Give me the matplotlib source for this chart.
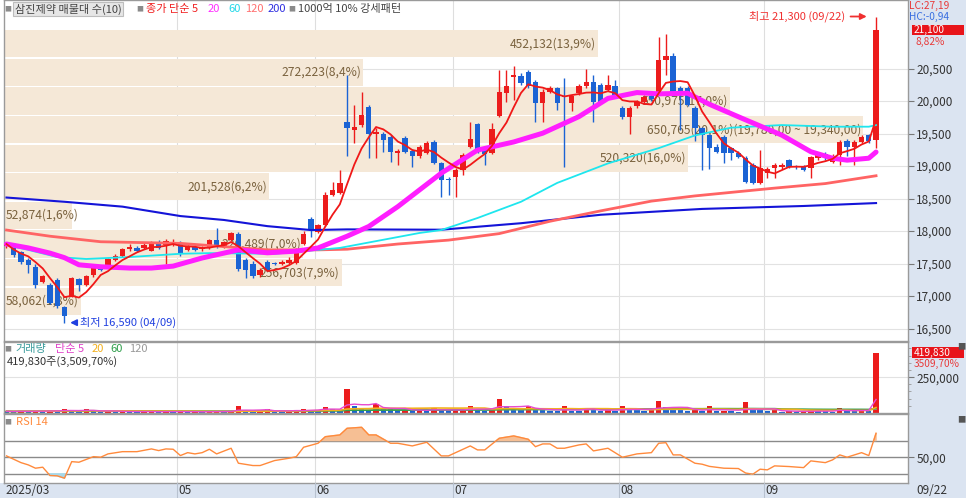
import numpy as np
import pandas as pd
import matplotlib
matplotlib.use("Agg")
import matplotlib.pyplot as plt
from matplotlib.patches import Rectangle
from matplotlib.lines import Line2D
from matplotlib.transforms import blended_transform_factory as blend

plt.rcParams['font.family'] = ['Noto Sans CJK KR', 'DejaVu Sans']
plt.rcParams['axes.unicode_minus'] = False

# 일봉 데이터 (2025/03/28 ~ 2025/09/22), 그림에서 읽은 값
opens = [17770, 17790, 17680, 17560, 17450, 17220, 17170, 17245, 16830, 16990,
         17260, 17170, 17320, 17450, 17450, 17560, 17610, 17720, 17740, 17740,
         17700, 17820, 17790, 17790, 17820, 17710, 17760, 17720, 17750, 17860,
         17760, 17860, 17950, 17560, 17500, 17320, 17530, 17510, 17500, 17505,
         17505, 17800, 18190, 17990, 18090, 18560, 18590, 19680, 19555, 19630,
         19910, 19490, 19500, 19450, 19195, 19435, 19235, 19155, 19205, 19375,
         19040, 18800, 18835, 18940, 19290, 19640, 19245, 19205, 19770, 20130,
         20375, 20385, 20450, 20300, 19975, 20145, 20195, 20080, 19975, 20130,
         20230, 20300, 20245, 20170, 20230, 19890, 19760, 19920, 19990, 20080,
         20145, 20630, 20695, 20195, 20195, 19890, 19580, 19475, 19300, 19450,
         19270, 19195, 19120, 19015, 18740, 18890, 18965, 18980, 19090, 18990,
         19000, 18965, 19120, 19185, 19065, 19170, 19390, 19300, 19375, 19475,
         19400]
highs = [17830, 17820, 17700, 17580, 17500, 17330, 17200, 17270, 16850, 17290,
         17280, 17330, 17480, 17470, 17590, 17640, 17740, 17800, 17770, 17810,
         17850, 17860, 17870, 17880, 17840, 17780, 17790, 17770, 17880, 18040,
         17850, 17990, 17980, 17580, 17540, 17430, 17550, 17530, 17560, 17600,
         17740, 18000, 18220, 18110, 18600, 18760, 18940, 20400, 19940, 20140,
         19940, 19580, 19520, 19480, 19260, 19460, 19260, 19330, 19380, 19400,
         19060, 18830, 18970, 19200, 19680, 19660, 19270, 19655, 20475, 20470,
         20540, 20430, 20470, 20330, 20180, 20230, 20220, 20350, 20100, 20260,
         20500, 20400, 20270, 20400, 20330, 19920, 19920, 20010, 20100, 20110,
         20990, 21030, 20740, 20230, 20230, 19920, 19600, 19500, 19340, 19470,
         19300, 19230, 19160, 19050, 19245, 18990, 19050, 19040, 19110, 19010,
         19020, 19160, 19220, 19210, 19180, 19400, 19420, 19400, 19470, 19490,
         21300]
lows = [17740, 17600, 17500, 17350, 17130, 17200, 16870, 16820, 16590, 16980,
        17070, 17150, 17300, 17380, 17440, 17540, 17600, 17700, 17680, 17730,
        17690, 17720, 17500, 17770, 17620, 17690, 17690, 17700, 17730, 17740,
        17740, 17840, 17390, 17280, 17280, 17300, 17380, 17470, 17480, 17490,
        17490, 17780, 17910, 17970, 18080, 18540, 18570, 19150, 19350, 19600,
        19120, 19120, 19220, 19065, 19020, 19200, 18990, 19130, 19180, 19030,
        18530, 18560, 18530, 18860, 19270, 19200, 19020, 19180, 19750, 19990,
        20010, 20250, 20200, 19680, 19680, 20120, 19860, 18990, 19850, 20100,
        20200, 19680, 19970, 20150, 20060, 19730, 19500, 19900, 19950, 20000,
        20100, 20400, 20070, 19555, 19920, 19390, 18940, 18950, 19200, 19050,
        19100, 19120, 18740, 18720, 18720, 18810, 18810, 18950, 18970, 18960,
        18920, 18810, 19100, 19100, 19050, 19010, 19150, 19020, 19360, 19360,
        19280]
closes = [17800, 17630, 17530, 17480, 17170, 17310, 16890, 16840, 16700, 17280,
          17170, 17310, 17460, 17400, 17570, 17615, 17720, 17750, 17700, 17790,
          17800, 17740, 17840, 17830, 17650, 17760, 17710, 17740, 17860, 17760,
          17830, 17965, 17410, 17400, 17310, 17400, 17400, 17490, 17530, 17555,
          17720, 17955, 18030, 18090, 18555, 18630, 18745, 19580, 19605, 19785,
          19500, 19530, 19400, 19220, 19235, 19220, 19155, 19290, 19360, 19050,
          18790, 18780, 18940, 19170, 19410, 19220, 19185, 19565, 20145, 20230,
          20400, 20280, 20230, 19975, 20145, 20195, 19975, 20060, 20080, 20230,
          20300, 19990, 19990, 20245, 20080, 19760, 19890, 19990, 20060, 20030,
          20630, 20685, 20095, 20095, 19940, 19580, 19480, 19270, 19220, 19195,
          19195, 19145, 18760, 18740, 18965, 18950, 19015, 19015, 18990, 18980,
          18940, 19135, 19195, 19120, 19155, 19375, 19300, 19375, 19450, 19390,
          21100]
# 거래량 (천주)
vol_k = [12, 10, 14, 11, 15, 13, 18, 16, 26, 14,
         11, 26, 15, 9, 12, 10, 13, 9, 8, 10,
         11, 8, 12, 9, 10, 8, 9, 7, 11, 14,
         10, 12, 50, 14, 12, 16, 25, 12, 10, 13,
         24, 25, 22, 20, 44, 25, 22, 168, 50, 25,
         22, 65, 30, 26, 18, 22, 15, 22, 18, 35,
         20, 15, 18, 22, 50, 28, 16, 30, 95, 48,
         30, 22, 48, 20, 18, 14, 12, 48, 16, 14,
         38, 22, 14, 18, 12, 52, 30, 18, 15, 20,
         85, 45, 30, 20, 14, 22, 16, 48, 14, 16,
         12, 10, 74, 22, 18, 12, 18, 10, 12, 8,
         10, 20, 14, 12, 10, 36, 14, 12, 15, 11.962,
         419.83]

# 이동평균선
ma20_idx = [0, 3, 6, 8, 10, 13, 17, 20, 23, 27, 32, 36, 40, 43, 47, 50, 54, 60, 65, 70,
            74, 79, 83, 87, 90, 94, 97, 102, 107, 111, 114, 116, 119, 120]
ma20_val = [17800, 17740, 17660, 17590, 17480, 17450, 17430, 17430, 17460, 17585,
            17710, 17665, 17690, 17740, 17920, 18070, 18375, 18890, 19245, 19370,
            19505, 19760, 20040, 20130, 20110, 20120, 19950, 19710, 19475, 19220,
            19120, 19090, 19120, 19215]
ma60_idx = [0, 3, 7, 11, 17, 24, 28, 37, 46, 57, 60, 65, 71, 76, 83, 90, 95, 100, 107,
            114, 119, 120]
ma60_val = [17785, 17710, 17600, 17570, 17600, 17650, 17660, 17650, 17740, 17970,
            18015, 18200, 18450, 18740, 19040, 19275, 19470, 19590, 19630, 19605,
            19605, 19630]
ma120_idx = [0, 6, 13, 24, 36, 43, 47, 54, 61, 68, 75, 82, 89, 95, 106, 113, 120]
ma120_val = [18015, 17920, 17835, 17810, 17710, 17710, 17720, 17800, 17860, 17960,
             18150, 18310, 18460, 18540, 18660, 18730, 18850]
ma200_idx = [0, 8, 16, 24, 30, 36, 42, 47, 60, 71, 82, 96, 110, 120]
ma200_val = [18515, 18450, 18375, 18230, 18170, 18075, 18015, 18025, 18020, 18120,
             18250, 18340, 18385, 18430]

# RSI 14
rsi_idx = [0, 2, 3, 4, 5, 6, 7, 8, 9, 10, 12, 13, 14, 16, 18, 20, 21, 22, 23, 24,
           25, 26, 27, 28, 29, 31, 32, 34, 35, 37, 39, 40, 41, 43, 44, 46, 47, 49, 50, 51,
           53, 54, 56, 58, 60, 61, 64, 65, 66, 68, 70, 72, 73, 74, 75, 76, 77, 79, 80, 81,
           83, 85, 87, 89, 90, 91, 92, 93, 95, 96, 97, 99, 101, 102, 103, 104, 105, 106, 108, 110,
           111, 113, 114, 115, 116, 118, 119, 120]
rsi_val = [51.6, 43.5, 40.8, 36.8, 38, 28, 27.6, 24.8, 44.7, 44,
           50.7, 50, 54, 56.7, 56.7, 60, 58, 60, 59.6, 52,
           55.5, 54, 55.5, 59.6, 54, 60.8, 42.8, 40, 40, 46,
           48.8, 50.7, 62, 66.8, 74.7, 76.8, 84.8, 86, 76.8, 76.8,
           66.8, 66.8, 63.6, 68, 51.6, 51.6, 63.6, 58.8, 58.8, 72.8,
           75.6, 71.6, 62.7, 66, 66, 60.8, 60.8, 64.8, 66, 57.6,
           60.8, 50, 54, 55.5, 66.8, 67.5, 52.8, 52.8, 42.8, 41.6,
           39, 36.8, 36.4, 31, 29.6, 35.6, 34.8, 39.6, 38.8, 37.5,
           45.6, 43.5, 46.8, 52.8, 50, 55.5, 52, 78.8]

# 매물대 (10구간)
prof_bottom = [16700, 17140, 17580, 18020, 18460, 18900, 19340, 19780, 20220, 20660]
prof_step = 440
prof_vol = [58062, 256703, 226489, 52874, 201528, 520320, 650765, 550975, 272223, 452132]
prof_pct = [1.8, 7.9, 7.0, 1.6, 6.2, 16.0, 20.1, 17.0, 8.4, 13.9]

month_idx = [24, 43, 62, 85, 105]
month_lbl = ['05', '06', '07', '08', '09']

RED = '#ec1c1c'
BLUE = '#1b63d4'

W, H = 966, 498
fig = plt.figure(figsize=(W / 100, H / 100), dpi=100)
fig.patch.set_facecolor('white')


def add_ax(x0, y0, x1, y1):
    return fig.add_axes([x0 / W, 1 - y1 / H, (x1 - x0) / W, (y1 - y0) / H])


def ftext(x, y, s, **kw):
    kw.setdefault('va', 'center')
    kw.setdefault('fontsize', 8)
    return fig.text(x / W, 1 - y / H, s, **kw)


def kr(x, d=2):
    return f"{x:,.{d}f}".replace('.', ',')


strip = '#dbe4f1'
fig.patches.append(Rectangle((908 / W, 0), 58 / W, 1, transform=fig.transFigure,
                             facecolor=strip, edgecolor='none', zorder=-5))
fig.patches.append(Rectangle((0, 0), 1, 15 / H, transform=fig.transFigure,
                             facecolor=strip, edgecolor='none', zorder=-5))

ax_p = add_ax(4, 0, 908, 341)
ax_v = add_ax(4, 342, 908, 413)
ax_r = add_ax(4, 414, 908, 483)

xlim = (-0.345, 124.41)
for ax in (ax_p, ax_v, ax_r):
    ax.set_xlim(*xlim)
    ax.set_xticks([])
    for sp in ax.spines.values():
        sp.set_color('#9a9a9a')
        sp.set_linewidth(1)
    ax.yaxis.tick_right()
    ax.tick_params(axis='y', length=4, width=0.8, color='#777', labelsize=8.5,
                   labelcolor='#333', pad=2)
    for m in month_idx:
        ax.axvline(m - 0.45, color='#dedede', lw=0.8, zorder=0.2)

idx = np.arange(len(closes))
o, h, l, c = map(np.array, (opens, highs, lows, closes))

# ---- 가격 패널 ----
ax_p.set_ylim(16308, 21554)
pticks = list(range(16500, 21000, 500))
ax_p.set_yticks(pticks)
ax_p.set_yticklabels([f"{v:,}" for v in pticks])
for v in pticks:
    ax_p.axhline(v, color='#e2e2e2', lw=0.8, zorder=0.2)

# 매물대 막대
tr = blend(ax_p.transAxes, ax_p.transData)
max_pct = max(prof_pct)
for b, vol, pct in zip(prof_bottom, prof_vol, prof_pct):
    wf = pct / max_pct * 0.95
    ax_p.add_patch(Rectangle((0, b + 10), wf, prof_step - 22, transform=tr,
                             facecolor='#f5e8d7', edgecolor='none', zorder=0.5))
    lbl = f"{vol:,}({pct:.1f}%)".replace('.', ',')
    if b == prof_bottom[int(np.argmax(prof_pct))]:
        lbl += f"({kr(b + prof_step)} ~ {kr(b)})"
    if pct < 3:
        ax_p.text(0.002, b + prof_step / 2, lbl, transform=tr, ha='left', va='center',
                  fontsize=8.7, color='#7a623e', zorder=1)
    else:
        ax_p.text(wf - 0.002, b + prof_step / 2, lbl, transform=tr, ha='right', va='center',
                  fontsize=8.7, color='#7a623e', zorder=1)

# 캔들
col = np.where(c >= o, RED, BLUE)
ax_p.vlines(idx, l, h, colors=col, lw=1, zorder=3)
body_lo = np.minimum(o, c)
body_h = np.maximum(np.abs(c - o), 16)
ax_p.bar(idx, body_h, bottom=body_lo, width=0.74, color=col, linewidth=0, zorder=3.1)

# 이동평균
ax_p.plot(ma200_idx, ma200_val, color='#1414d8', lw=1.5, zorder=4)
ax_p.plot(ma120_idx, ma120_val, color='#ff6464', lw=2.0, zorder=4)
ax_p.plot(ma60_idx, ma60_val, color='#1ee6ee', lw=1.3, zorder=4)
ax_p.plot(ma20_idx, ma20_val, color='#ff1eff', lw=3.6, zorder=4.2, solid_capstyle='round')
ma5 = pd.Series(c).rolling(5, min_periods=1).mean()
ax_p.plot(idx, ma5, color='#f01818', lw=1.3, zorder=4.4)

# 최고 / 최저 표시
ihi = int(np.argmax(h))
ilo = int(np.argmin(l))
ax_p.annotate('', xy=(ihi - 0.9, h[ihi]), xytext=(ihi - 3.9, h[ihi]),
              arrowprops=dict(arrowstyle='-|>', color='#f03030', lw=1.3, mutation_scale=9),
              zorder=6)
ax_p.text(ihi - 4.3, h[ihi], f"최고 {h[ihi]:,} (09/22)", ha='right', va='center',
          fontsize=8, color='#f03030', zorder=6)
ax_p.annotate('', xy=(ilo + 0.4, l[ilo]), xytext=(ilo + 2.1, l[ilo]),
              arrowprops=dict(arrowstyle='-|>', color='#2040e0', lw=1.3, mutation_scale=9),
              zorder=6)
ax_p.text(ilo + 2.1, l[ilo], f"최저 {l[ilo]:,} (04/09)", ha='left', va='center',
          fontsize=8, color='#2040e0', zorder=6)

# ---- 거래량 패널 ----
vol = np.array(vol_k) * 1000
ax_v.set_ylim(0, 495000)
ax_v.set_yticks([250000])
ax_v.set_yticklabels(['250,000'])
ax_v.set_yticks(np.arange(50000, 495000, 50000), minor=True)
ax_v.tick_params(axis='y', which='minor', length=2, color='#999')
ax_v.axhline(250000, color='#e2e2e2', lw=0.8, zorder=0.2)
vprev = np.concatenate([[vol[0]], vol[:-1]])
vcol = np.where(vol > vprev, RED, BLUE)
ax_v.bar(idx, vol, width=0.74, color=vcol, linewidth=0, zorder=2)
vs = pd.Series(vol)
ax_v.plot(idx, vs.rolling(120, min_periods=1).mean(), color='#a0a0a0', lw=1, zorder=3)
ax_v.plot(idx, vs.rolling(60, min_periods=1).mean(), color='#2e9e4a', lw=1.2, zorder=3)
ax_v.plot(idx, vs.rolling(20, min_periods=1).mean(), color='#f2b01e', lw=1.2, zorder=3)
ax_v.plot(idx, vs.rolling(5, min_periods=1).mean(), color='#e84ad0', lw=1, zorder=3)

# ---- RSI 패널 ----
rx = np.array(rsi_idx)
ry = np.array(rsi_val)
ax_r.set_ylim(19, 102)
ax_r.set_yticks([50])
ax_r.set_yticklabels(['50,00'])
for lv in (30, 50, 70):
    ax_r.axhline(lv, color='#8a8a8a', lw=1, zorder=1)
ax_r.fill_between(rx, ry, 70, where=ry > 70, interpolate=True, color='#f6bf94', zorder=2)
ax_r.fill_between(rx, ry, 30, where=ry < 30, interpolate=True, color='#a6d8ea', zorder=2)
ax_r.plot(rx, ry, color='#ff8a3c', lw=1, zorder=3)

# ---- 날짜축 ----
trd = blend(ax_r.transData, fig.transFigure)
for m, s in zip(month_idx, month_lbl):
    fig.add_artist(Line2D([m - 0.45, m - 0.45], [0, 15 / H], transform=trd,
                          color='#b8c2d0', lw=0.8))
    fig.text(m - 0.25, 1 - 490.5 / H, s, transform=trd, ha='left', va='center',
             fontsize=8.5, color='#333')
fig.text(-0.1, 1 - 490.5 / H, '2025/03', transform=trd, ha='left', va='center',
         fontsize=8.5, color='#333')
ftext(916, 490.5, '09/22', fontsize=8.5, color='#333')

# ---- 범례 ----
ftext(4, 9, '■', fontsize=5, color='#8a8a8a')
ftext(15, 9, '삼진제약 매물대 수(10)', color='#444',
      bbox=dict(facecolor='#e6e6e6', edgecolor='#bdbdbd', pad=1.2, lw=0.8))
ftext(136, 9, '■', fontsize=5, color='#8a8a8a')
ftext(146, 9, '종가 단순 5', color='#f02020')
ftext(208, 9, '20', color='#ff2eff')
ftext(228, 9, '60', color='#22d8e8')
ftext(245, 9, '120', color='#ff7070')
ftext(268, 9, '200', color='#3030e0')
ftext(288, 9, '■', fontsize=5, color='#8a8a8a')
ftext(298, 9, '1000억 10% 강세패턴', color='#444')

ftext(4, 349, '■', fontsize=5, color='#8a8a8a')
ftext(15, 349, '거래량', color='#3a9c9c')
ftext(55, 349, '단순 5', color='#e040c8')
ftext(92, 349, '20', color='#f2b01e')
ftext(110, 349, '60', color='#2e9e4a')
ftext(129, 349, '120', color='#999')
ftext(7, 361.5, f"{vol[-1]:,.0f}주({kr(vol[-1] / vol[-2] * 100)}%)", color='#333')

ftext(4, 422, '■', fontsize=5, color='#8a8a8a')
ftext(16, 422, 'RSI 14', color='#ff8a3c')

# ---- 오른쪽 값 표시 ----
lc = (c[-1] / l.min() - 1) * 100
hc = (c[-1] / h.max() - 1) * 100
chg = (c[-1] / c[-2] - 1) * 100
rs = 7.3
ftext(909, 5.5, f"LC:{kr(lc)}", color='#e83a3a', fontsize=rs)
ftext(909, 16.5, f"HC:{kr(hc)}", color='#3a6ee0', fontsize=rs)
fig.patches.append(Rectangle((912 / W, 1 - 35.5 / H), 52 / W, 10.5 / H, transform=fig.transFigure,
                             facecolor='#e8141a', edgecolor='none', zorder=2))
ftext(914, 30.2, f"{c[-1]:,}", color='white', fontsize=rs, zorder=3)
ftext(915, 41.8, f"{kr(chg)}%", color='#e83a3a', fontsize=rs)

fig.patches.append(Rectangle((912 / W, 1 - 358 / H), 52 / W, 10.5 / H, transform=fig.transFigure,
                             facecolor='#e8141a', edgecolor='none', zorder=2))
ftext(914, 352.8, f"{vol[-1]:,.0f}", color='white', fontsize=rs, zorder=3)
ftext(914, 364.2, f"{vol[-1] / vol[-2] * 100:.2f}%".replace('.', ','), color='#e83a3a',
      fontsize=rs)
ftext(957, 347, '■', fontsize=6, color='#555')
ftext(957, 420, '■', fontsize=6, color='#555')

fig.savefig('out.png', dpi=100)
